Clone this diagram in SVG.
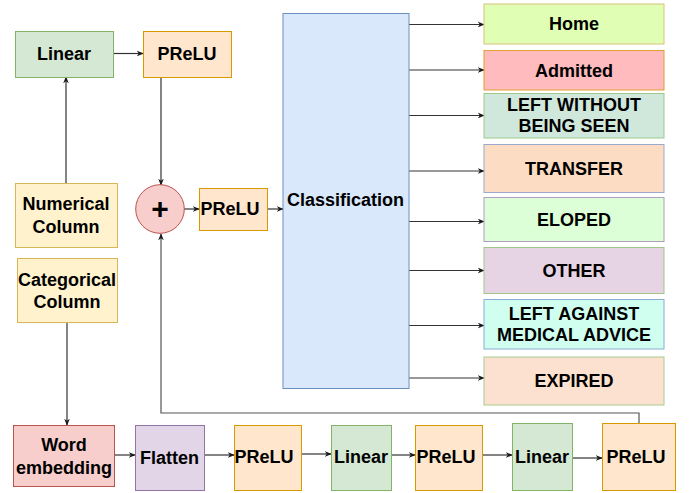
<svg xmlns="http://www.w3.org/2000/svg" width="694" height="493" viewBox="0 0 694 493">
<defs>
<marker id="arr" viewBox="0 0 10 10" refX="9" refY="5" markerWidth="7" markerHeight="7" markerUnits="userSpaceOnUse" orient="auto">
<path d="M0,1 L10,5 L0,9 L3,5 Z" fill="#1a1a1a"/>
</marker>
<style>
text{font-family:"Liberation Sans",Arial,sans-serif;font-weight:bold;font-size:18px;fill:#000;text-anchor:middle;dominant-baseline:central}
.c{fill:none;stroke:#333;stroke-width:1.2;marker-end:url(#arr)}
.lin{fill:#d5e8d4;stroke:#82b366}
.pr{fill:#ffe6cc;stroke:#d79b00}
.col{fill:#fff2cc;stroke:#d6b656}
rect{stroke-width:1}
</style>
</defs>
<rect width="694" height="493" fill="#fff"/>
<g id="connectors">
<path class="c" d="M113,53.5 L143,53.5"/>
<path class="c" d="M66,183 L66,77"/>
<path class="c" d="M161,77 L161,185"/>
<path class="c" d="M184,209 L199,209"/>
<path class="c" d="M267,209 L283,209"/>
<path class="c" d="M67,322 L67,425"/>
<path class="c" d="M114,455 L135,455"/>
<path class="c" d="M204,455 L234,455"/>
<path class="c" d="M301,454 L331,454"/>
<path class="c" d="M391,455 L415,455"/>
<path class="c" d="M482,455 L512,455"/>
<path class="c" d="M573,458 L602,458"/>
<path class="c" d="M639,423 L639,413 L161,413 L161,234" style="stroke:#555"/>
<path class="c" d="M409,24.5 L484,24.5"/>
<path class="c" d="M409,70 L484,70"/>
<path class="c" d="M409,115.5 L484,115.5"/>
<path class="c" d="M409,171 L484,171"/>
<path class="c" d="M409,221.5 L484,221.5"/>
<path class="c" d="M409,270.5 L484,270.5"/>
<path class="c" d="M409,325.5 L484,325.5"/>
<path class="c" d="M409,378 L484,378"/>
</g>
<g id="linear-top"><rect class="lin" x="15.5" y="31.5" width="98" height="46"/><text x="64" y="54">Linear</text></g>
<g id="prelu-top"><rect class="pr" x="143.5" y="31.5" width="88" height="46"/><text x="187" y="54">PReLU</text></g>
<g id="numerical"><rect class="col" x="15.5" y="183.5" width="102" height="64"/><text x="66" y="204">Numerical</text><text x="66" y="227">Column</text></g>
<g id="categorical"><rect class="col" x="17.5" y="258.5" width="100" height="64"/><text x="67" y="280">Categorical</text><text x="67" y="302">Column</text></g>
<g id="plus"><circle cx="160" cy="209" r="24.3" fill="#f8cecc" stroke="#b85450"/><text x="160" y="208" style="font-size:30px">+</text></g>
<g id="prelu-mid"><rect class="pr" x="199.5" y="188.5" width="68" height="42"/><text x="230" y="209">PReLU</text></g>
<g id="classification"><rect x="283" y="13.5" width="126" height="375" fill="#dae8fc" stroke="#6c8ebf"/><text x="345.5" y="200">Classification</text></g>
<g id="word-embedding"><rect x="13.5" y="425.5" width="101" height="61" fill="#f8cecc" stroke="#b85450"/><text x="64" y="445">Word</text><text x="64" y="468">embedding</text></g>
<g id="flatten"><rect x="135.5" y="425.5" width="69" height="65" fill="#e1d5e7" stroke="#9673a6"/><text x="169.5" y="458">Flatten</text></g>
<g id="prelu-b1"><rect class="pr" x="234.5" y="425.5" width="67" height="65"/><text x="264" y="457">PReLU</text></g>
<g id="linear-b1"><rect class="lin" x="331.5" y="425.5" width="60" height="65"/><text x="361" y="457">Linear</text></g>
<g id="prelu-b2"><rect class="pr" x="415.5" y="425.5" width="67" height="65"/><text x="446" y="457">PReLU</text></g>
<g id="linear-b2"><rect class="lin" x="512.5" y="423.5" width="60" height="67"/><text x="542" y="457">Linear</text></g>
<g id="prelu-b3"><rect class="pr" x="602.5" y="423.5" width="73" height="67"/><text x="636" y="457">PReLU</text></g>
<g id="home"><rect x="484" y="4" width="180" height="40" fill="#e0ffb4" stroke="#d6c27a"/><text x="574" y="24">Home</text></g>
<g id="admitted"><rect x="484" y="50.5" width="180" height="39.5" fill="#ffbbbd" stroke="#e0a030"/><text x="574" y="71">Admitted</text></g>
<g id="lwbs"><rect x="484" y="93.5" width="180" height="44.5" fill="#d0e8dc" stroke="#9ec98a"/><text x="574" y="105">LEFT WITHOUT</text><text x="574" y="126">BEING SEEN</text></g>
<g id="transfer"><rect x="484" y="144.5" width="180" height="48" fill="#fcdcc2" stroke="#9ca8cc"/><text x="574" y="169">TRANSFER</text></g>
<g id="eloped"><rect x="484" y="197.5" width="180" height="44" fill="#dcffd8" stroke="#b09cc0"/><text x="574" y="219.5">ELOPED</text></g>
<g id="other"><rect x="484" y="247.5" width="180" height="46" fill="#e6d4e4" stroke="#a3c48a"/><text x="574" y="271">OTHER</text></g>
<g id="lama"><rect x="484" y="299.5" width="180" height="49.5" fill="#d0fff0" stroke="#88acd4"/><text x="574" y="314">LEFT AGAINST</text><text x="574" y="334.5">MEDICAL ADVICE</text></g>
<g id="expired"><rect x="484" y="357" width="180" height="48" fill="#fde1d0" stroke="#a8cc90"/><text x="574" y="381">EXPIRED</text></g>
</svg>
